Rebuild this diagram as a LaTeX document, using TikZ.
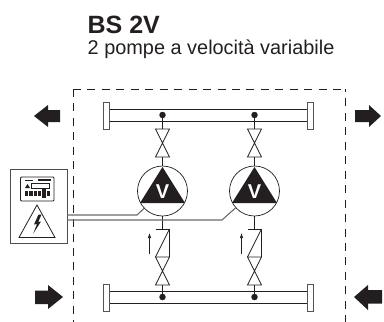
\documentclass[tikz,border=0pt]{standalone}
\usepackage{fontspec}
\usetikzlibrary{arrows.meta}
\setmainfont{Liberation Sans}
\definecolor{ink}{HTML}{231F20}
\definecolor{wire}{HTML}{6A6A6A}
\tikzset{
  x=1pt,y=-1pt,
  pipe/.style={draw=ink,line width=0.9pt},
  capbox/.style={draw=wire!70!ink,line width=0.8pt,fill=white},
  thin line/.style={draw=ink,line width=0.7pt},
  wireline/.style={draw=wire,line width=1.1pt},
  dotnode/.style={circle,fill=ink,inner sep=0pt,minimum size=6.5pt},
  pumpring/.style={circle,draw=ink,line width=0.7pt,inner sep=0pt,minimum size=50pt,fill=white},
  boundary/.style={draw=ink,line width=0.8pt,dash pattern=on 8pt off 6.45pt},
  flowarrow/.style={fill=ink,draw=none},
  title/.style={inner sep=0pt,anchor=base west},
}
\begin{document}
\begin{tikzpicture}
\useasboundingbox (0,0) rectangle (384,322);
% title
\node[title,text=ink,font=\bfseries\fontsize{25}{25}\selectfont] (t1) at (87.5,33.5) {BS 2V};
\node[title,text=ink,font=\fontsize{19.9}{20}\selectfont] (t2) at (87.5,54) {2 pompe a velocità variabile};
% dashed boundary
\draw[boundary] (73,89) -- (73,322);
\draw[boundary] (73,89) -- (345,89);
\draw[boundary,dash phase=5pt] (345,89) -- (345,322);
% headers
\foreach \yy/\nm in {109/top,291/bot}{
  \draw[pipe] (109,\yy) -- (307,\yy);
  \draw[pipe] (109,\yy+12) -- (307,\yy+12);
  \draw[capbox] (103,\yy-7) rectangle (109.5,\yy+20);
  \draw[capbox] (307,\yy-7) rectangle (313.5,\yy+20);
}
% pump branches
\foreach \i/\xx in {1/162.5,2/254.5}{
  \node[dotnode] (dt\i) at (\xx,115) {};
  \node[dotnode] (db\i) at (\xx,297) {};
  \coordinate (vt\i) at (\xx,129);
  \coordinate (vb\i) at (\xx,157);
  \node[pumpring] (p\i) at (\xx,191) {};
  \coordinate (ct\i) at (\xx,229);
  \coordinate (cb\i) at (\xx,257);
  \coordinate (vv\i) at (\xx,285);
  \draw[thin line] (dt\i) -- (vt\i);
  \draw[thin line] (vb\i) -- (p\i.north);
  \draw[thin line] (p\i.south) -- (ct\i);
  \draw[thin line] (vv\i) -- (db\i);
  % gate valves
  \draw[thin line] (\xx-7,129) -- (\xx+7,129) -- (\xx-7,157) -- (\xx+7,157) -- cycle;
  \draw[thin line] (\xx-7,257) -- (\xx+7,257) -- (\xx-7,285) -- (\xx+7,285) -- cycle;
  % check valve
  \draw[thin line] (\xx-7,229) -- (\xx+7,229) -- (\xx+7,257);
  \draw[thin line] (\xx+7,229) -- (\xx-7,257);
  % triangle with V
  \fill[ink] (\xx,167) -- (\xx+22.5,203) -- (\xx-22.5,203) -- cycle;
  \node[inner sep=0pt,text=white,font=\bfseries\fontsize{20}{20}\selectfont] (vl\i) at (\xx,191.5) {V};
  % flow arrow
  \draw[thin line,-{Latex[length=5pt,width=3.5pt]}] (\xx-13,254) -- (\xx-13,233);
}
% control panel
\node[draw=wire!60!ink,line width=0.9pt,minimum width=57pt,minimum height=74.5pt,inner sep=0pt,anchor=north west,fill=white] (box) at (9.5,168.5) {};
% wires
\draw[wireline] (box.east |- 0,215) -- (137,215) -- (p1);
\draw[wireline] (box.east |- 0,220) -- (222,220) -- (p2);
% panel details
\draw[draw=ink,line width=0.9pt,rounded corners=1pt] (20.5,177) rectangle (54,201);
\fill[ink] (25,179.5) rectangle (33,181);
\fill[ink] (38,179) rectangle (51,181);
\fill[ink] (25,188) -- (27.5,184) -- (30,188) -- cycle;
\draw[draw=ink,line width=0.6pt] (31.5,183) rectangle (49,188);
\fill[ink] (24.5,191) rectangle (28,196);
\fill[ink] (29,191) rectangle (32.5,196);
\fill[ink] (33.5,191) rectangle (36.5,196);
\fill[ink] (38,191) rectangle (41,196);
\fill[ink] (41.5,188) rectangle (46,198);
\fill[ink] (46.5,191) rectangle (50,196);
% warning triangle
\draw[draw=ink,line width=0.8pt] (37,205) -- (55,237.5) -- (19,237.5) -- cycle;
\fill[ink] (38.5,214.5) -- (34,224.5) -- (37,224) -- (33.3,233.5) -- (41,221.5) -- (38.2,222) -- (41.5,214.5) -- cycle;
% big arrows
\fill[flowarrow] (34,116) -- (48,105) -- (48,110) -- (60,110) -- (60,122) -- (48,122) -- (48,127) -- cycle;
\fill[flowarrow] (381,116) -- (369,105) -- (369,110) -- (355,110) -- (355,122) -- (369,122) -- (369,127) -- cycle;
\fill[flowarrow] (63,297) -- (48,285) -- (48,290.5) -- (35,290.5) -- (35,304) -- (48,304) -- (48,309) -- cycle;
\fill[flowarrow] (354,297) -- (368,285) -- (368,290) -- (382,290) -- (382,303.5) -- (368,303.5) -- (368,310) -- cycle;
\end{tikzpicture}
\end{document}
